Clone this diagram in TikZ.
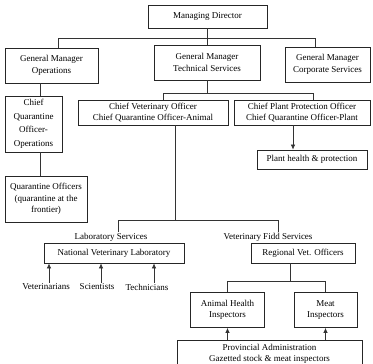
\documentclass[tikz,border=0pt]{standalone}
\usepackage{fontspec}
\setmainfont{Liberation Serif}
\usetikzlibrary{arrows.meta}
\tikzset{
  box/.style={draw=black!85, line width=0.75pt, align=center, font=\fontsize{9}{11.5}\selectfont, inner sep=2pt},
  lbl/.style={align=center, font=\fontsize{9}{11.5}\selectfont, inner sep=1pt},
  conn/.style={draw=black!80, line width=0.65pt},
  arr/.style={conn, -{Latex[length=5pt,width=4.5pt]}},
}
\begin{document}
\begin{tikzpicture}[x=1pt,y=-1pt]
\useasboundingbox (0,0) rectangle (373,364);
\clip (0,0) rectangle (373,364);
\node[box, minimum width=119pt, minimum height=23pt] (md) at (207.5,16.5) {Managing Director};
\node[box, minimum width=93pt, minimum height=35pt] (gmo) at (51.5,65.5) {General Manager\\Operations};
\node[box, minimum width=106pt, minimum height=35pt] (gmt) at (207,62.5) {General Manager\\Technical Services};
\node[box, minimum width=85pt, minimum height=35pt] (gmc) at (327.5,64.5) {General Manager\\Corporate Services};
\node[box, minimum width=57pt, minimum height=56pt, font=\fontsize{9}{13.5}\selectfont] (cqo) at (33.5,124) {Chief\\Quarantine\\Officer-\\Operations};
\node[box, minimum width=150pt, minimum height=25pt] (cvo) at (153,112.5) {Chief Veterinary Officer\\Chief Quarantine Officer-Animal};
\node[box, minimum width=136pt, minimum height=25pt] (cppo) at (302,112.5) {Chief Plant Protection Officer\\Chief Quarantine Officer-Plant};
\node[box, minimum width=110pt, minimum height=19pt] (plant) at (312,159.5) {Plant health \& protection};
\node[box, minimum width=82pt, minimum height=46pt] (qo) at (46,199) {Quarantine Officers\\(quarantine at the\\frontier)};
\node[lbl] (lab) at (111,237) {Laboratory Services};
\node[lbl] (vfs) at (268,237) {Veterinary Fidd Services};
\node[box, minimum width=140pt, minimum height=20pt] (nvl) at (114,253) {National Veterinary Laboratory};
\node[box, minimum width=104pt, minimum height=20pt] (rvo) at (303,253) {Regional Vet. Officers};
\node[lbl] (vet) at (46,287) {Veterinarians};
\node[lbl] (sci) at (97,287) {Scientists};
\node[lbl] (tec) at (147,287) {Technicians};
\node[box, minimum width=74pt, minimum height=35pt] (ahi) at (227.5,310) {Animal Health\\Inspectors};
\node[box, minimum width=63pt, minimum height=35pt] (mi) at (325.5,310) {Meat\\Inspectors};
\node[box, anchor=north, minimum width=185pt, inner ysep=4pt, font=\fontsize{9}{10.5}\selectfont] (prov) at (269.5,340) {Provincial Administration\\Gazetted stock \& meat inspectors\\[4pt]};
% connectors
\coordinate (j1) at (207.5,38);
\coordinate (j1l) at (58,38);
\coordinate (j1r) at (315,38);
\draw[conn] (md.south) -- (j1);
\draw[conn] (j1l) -- (j1r);
\draw[conn] (j1l) -- (j1l |- gmo.north);
\draw[conn] (j1) -- (j1 |- gmt.north);
\draw[conn] (j1r) -- (j1r |- gmc.north);
\coordinate (q) at (40,0);
\draw[conn] (q |- gmo.south) -- (q |- cqo.north);
\draw[conn] (q |- cqo.south) -- (q |- qo.north);
\coordinate (j2) at (207,93);
\coordinate (j2l) at (163,93);
\coordinate (j2r) at (313,93);
\draw[conn] (gmt.south) -- (j2);
\draw[conn] (j2l) -- (j2r);
\draw[conn] (j2l) -- (j2l |- cvo.north);
\draw[conn] (j2r) -- (j2r |- cppo.north);
\coordinate (p) at (293,0);
\draw[arr] (p |- cppo.south) -- (p |- plant.north);
\coordinate (j3) at (175,220);
\coordinate (j3l) at (118,220);
\coordinate (j3r) at (278,220);
\draw[conn] (j3 |- cvo.south) -- (j3);
\draw[conn] (j3l) -- (j3r);
\draw[conn] (j3l) -- (j3l |- lab.north);
\draw[conn] (j3r) -- (j3r |- vfs.north);
\coordinate (av) at (49,0);
\coordinate (as) at (101,0);
\coordinate (at) at (154,0);
\draw[arr] (av |- vet.north) -- (av |- nvl.south);
\draw[arr] (as |- sci.north) -- (as |- nvl.south);
\draw[arr] (at |- tec.north) -- (at |- nvl.south);
\coordinate (j4) at (290,281);
\coordinate (j4l) at (227.5,281);
\coordinate (j4r) at (325.5,281);
\draw[conn] (j4 |- rvo.south) -- (j4);
\draw[conn] (j4l) -- (j4r);
\draw[conn] (j4l) -- (ahi.north);
\draw[conn] (j4r) -- (mi.north);
\draw[arr] (ahi.south |- prov.north) -- (ahi.south);
\draw[arr] (mi.south |- prov.north) -- (mi.south);
\end{tikzpicture}
\end{document}
